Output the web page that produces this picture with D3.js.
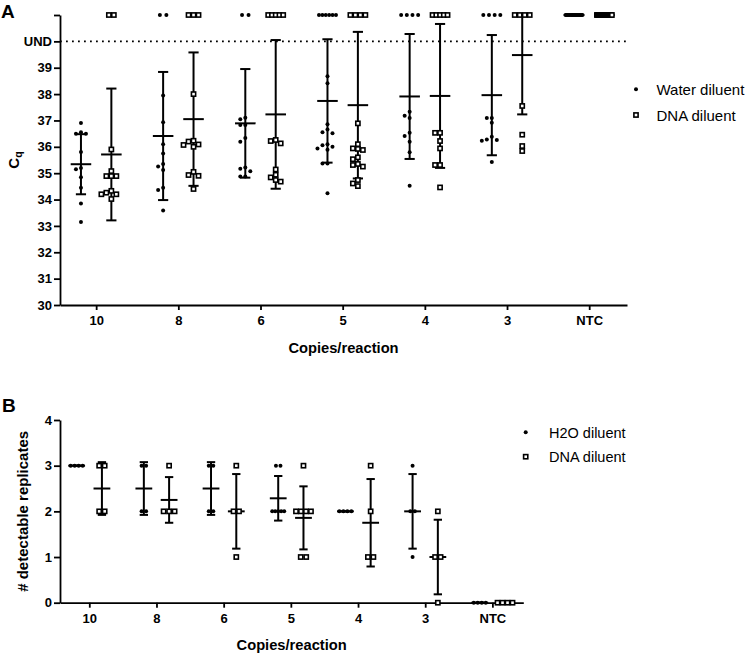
<!DOCTYPE html>
<html><head><meta charset="utf-8">
<script src="https://cdn.jsdelivr.net/npm/d3@7"></script>
<style>
body{margin:0;background:#fff}
svg{display:block}
text{font-family:"Liberation Sans",Arial,Helvetica,sans-serif;fill:#000}
</style>
</head><body>
<svg id="c" width="747" height="654"></svg>
<script>
// ---------- DATA ----------
const categories = ["10", "8", "6", "5", "4", "3", "NTC"];

// Panel A: detected Cq values (undetermined replicates are plotted on the top row)
const waterCq = [
  [36.9, 36.5, 36.5, 36.55, 35.8, 35.2, 35.15, 34.85, 34.45, 33.85, 33.15],
  [37.95, 36.93, 36.1, 35.75, 35.35, 35.25, 35.12, 34.45, 34.36, 33.58],
  [37.05, 37.1, 36.83, 36.83, 36.33, 36.19, 35.22, 35.07, 35.17, 34.87, 34.87],
  [38.68, 38.41, 36.86, 36.66, 36.51, 36.55, 36.1, 36.0, 36.06, 35.89, 35.94, 35.37, 35.37, 34.24],
  [37.33, 37.09, 37.18, 36.53, 36.41, 36.19, 35.79, 34.52],
  [37.09, 37.09, 36.91, 36.38, 36.26, 36.23, 36.28, 35.42],
  []
];
const dnaCq = [
  [35.9, 35.08, 34.89, 34.89, 34.89, 34.33, 34.26, 34.2, 34.2, 34.02],
  [38.0, 36.23, 36.2, 36.09, 36.07, 36.0, 35.05, 34.93, 34.9, 34.4],
  [36.26, 36.22, 36.13, 35.14, 34.94, 34.84, 34.74, 34.68],
  [36.89, 36.1, 35.94, 35.92, 35.88, 35.6, 35.53, 35.35, 35.31, 35.25, 34.74, 34.61, 34.51],
  [36.53, 36.53, 36.22, 35.94, 35.31, 35.31, 34.46],
  [37.55, 36.46, 36.03, 35.84],
  []
];
const waterUnd = [0, 2, 2, 6, 4, 4, 16];
const dnaUnd = [2, 3, 5, 4, 5, 4, 16];
// mean and SD (undetermined counted at the top value)
const waterMean = [35.34, 36.41, 36.89, 37.74, 37.91, 37.96, 41];
const waterSD = [1.14, 2.43, 2.06, 2.34, 2.37, 2.28, 0];
const dnaMean = [35.71, 37.05, 37.23, 37.58, 37.93, 39.48, 41];
const dnaSD = [2.5, 2.53, 2.82, 2.78, 2.73, 2.25, 0];
const cqTicks = [30, 31, 32, 33, 34, 35, 36, 37, 38, 39, 40, 41];
const cqTickLabels = ["30", "31", "32", "33", "34", "35", "36", "37", "38", "39", "UND", ""];

// Panel B: number of detectable replicates
const waterRep = [[3,3,3,3],[3,3,2,2],[3,3,2,2],[3,3,2,2,2,2,2],[2,2,2,2],[3,2,2,1],[0,0,0,0]];
const dnaRep = [[3,3,2,2],[3,2,2,2],[3,2,2,1],[3,2,2,2,2,1,1],[3,2,1,1],[2,1,1,0],[0,0,0,0]];
const repTicks = [0, 1, 2, 3, 4];

const legendA = ["Water diluent", "DNA diluent"];
const legendB = ["H2O diluent", "DNA diluent"];

// ---------- DRAW ----------
const svg = d3.select("#c");
const idx = categories.map((d, i) => i);

function glyph(g, x, y, type) {
  if (type === "dot") {
    g.append("circle").attr("cx", x).attr("cy", y).attr("r", 2).attr("fill", "#000");
  } else {
    const a = 4.2;
    g.append("rect").attr("x", x - a / 2).attr("y", y - a / 2).attr("width", a).attr("height", a)
      .attr("fill", "#fff").attr("stroke", "#000").attr("stroke-width", 1.6);
  }
}

function swarm(vals, y, gap) {
  const pts = vals.map(v => ({ v, y: y(v), dx: 0 })).sort((a, b) => a.y - b.y);
  const placed = [];
  for (const p of pts) {
    const cands = [0];
    for (let k = 1; k < 10; k++) cands.push(-k * gap, k * gap);
    for (const c of cands) {
      if (placed.every(q => Math.abs(q.dx - c) >= gap * 0.99 || Math.abs(q.y - p.y) >= gap * 0.9)) { p.dx = c; break; }
    }
    placed.push(p);
  }
  return pts;
}

function rowSpread(n, gap, maxW) {
  if (n <= 1) return [0];
  const w = Math.min((n - 1) * gap, maxW);
  return d3.range(n).map(i => -w / 2 + i * w / (n - 1));
}

function errorBar(g, xc, y, mean, sd, meanHalf, capHalf, top) {
  const hi = Math.min(mean + sd, top), lo = mean - sd;
  g.append("line").attr("x1", xc).attr("x2", xc).attr("y1", y(lo)).attr("y2", y(hi))
    .attr("stroke", "#000").attr("stroke-width", 2);
  g.append("line").attr("x1", xc - capHalf).attr("x2", xc + capHalf).attr("y1", y(lo)).attr("y2", y(lo))
    .attr("stroke", "#000").attr("stroke-width", 2);
  if (mean + sd <= top) {
    g.append("line").attr("x1", xc - capHalf).attr("x2", xc + capHalf).attr("y1", y(hi)).attr("y2", y(hi))
      .attr("stroke", "#000").attr("stroke-width", 2);
  }
  g.append("line").attr("x1", xc - meanHalf).attr("x2", xc + meanHalf).attr("y1", y(mean)).attr("y2", y(mean))
    .attr("stroke", "#000").attr("stroke-width", 2);
}

function styleAxis(g) {
  g.selectAll("path.domain").attr("stroke", "#000").attr("stroke-width", 1.8);
  g.selectAll(".tick line").attr("stroke", "#000").attr("stroke-width", 1.8);
  g.selectAll(".tick text").attr("font-size", 13).attr("font-weight", "bold")
    .attr("font-family", '"Liberation Sans",Arial,sans-serif').attr("fill", "#000");
}

// ===== Panel A =====
const xA = d3.scaleLinear().domain([-0.44, 6.46]).range([60, 627]);
const yA = d3.scaleLinear().domain([30, 41]).range([305, 15]);
const offA = 0.185;
const gA = svg.append("g");

// dotted UND line
gA.append("line").attr("x1", xA.range()[0]).attr("x2", xA.range()[1]).attr("y1", yA(40)).attr("y2", yA(40))
  .attr("stroke", "#000").attr("stroke-width", 1.8).attr("stroke-dasharray", "1.8 4.2");

const axYA = gA.append("g").attr("transform", `translate(${xA.range()[0]},0)`)
  .call(d3.axisLeft(yA).tickValues(cqTicks).tickFormat((d, i) => cqTickLabels[i]).tickSize(6).tickPadding(2).tickSizeOuter(0));
styleAxis(axYA);
const axXA = gA.append("g").attr("transform", `translate(0,${yA.range()[0]})`)
  .call(d3.axisBottom(xA).tickValues(idx).tickFormat(i => categories[i]).tickSize(5).tickPadding(6).tickSizeOuter(0));
styleAxis(axXA);

const barW_A = (xA(1) - xA(0));
function drawGroupA(vals, und, mean, sd, off, type) {
  idx.forEach(i => {
    const xc = xA(i + off);
    errorBar(gA, xc, yA, mean[i], sd[i], barW_A * 0.125, barW_A * 0.062, 41);
  });
  idx.forEach(i => {
    const xc = xA(i + off);
    swarm(vals[i], yA, 5).forEach(p => glyph(gA, xc + p.dx, p.y, type));
    const spread = type === "dot" ? rowSpread(und[i], 6.5, 17) : rowSpread(und[i], 5, 15);
    if (und[i] > 0) spread.forEach(dx => glyph(gA, xc + dx, yA(41), type));
  });
}
drawGroupA(waterCq, waterUnd, waterMean, waterSD, -offA, "dot");
drawGroupA(dnaCq, dnaUnd, dnaMean, dnaSD, offA, "sq");

gA.append("text").attr("x", d3.mean(xA.range())).attr("y", 352.5).attr("text-anchor", "middle")
  .attr("font-size", 14.7).attr("font-weight", "bold").text("Copies/reaction");
const yl = gA.append("text").attr("transform", "translate(18.5,160) rotate(-90)").attr("text-anchor", "middle")
  .attr("font-size", 15).attr("font-weight", "bold");
yl.append("tspan").text("C");
yl.append("tspan").attr("font-size", 10.5).attr("dy", 3.5).text("q");
svg.append("text").attr("x", 1).attr("y", 18).attr("font-size", 19).attr("font-weight", "bold").text("A");

// legend A
const lgA = svg.append("g");
legendA.forEach((t, i) => {
  glyph(lgA, 636, 89.3 + i * 25.7, i === 0 ? "dot" : "sq");
  lgA.append("text").attr("x", 656.5).attr("y", 95 + i * 25.5).attr("font-size", 15).text(t);
});

// ===== Panel B =====
const xB = d3.scaleLinear().domain([-0.436, 6.46]).range([60, 523.3]);
const yB = d3.scaleLinear().domain([0, 4]).range([602.7, 420]);
const offB = 0.188;
const gB = svg.append("g");
const axYB = gB.append("g").attr("transform", `translate(${xB.range()[0]},0)`)
  .call(d3.axisLeft(yB).tickValues(repTicks).tickFormat(d3.format("d")).tickSize(6).tickPadding(2).tickSizeOuter(0));
styleAxis(axYB);
const axXB = gB.append("g").attr("transform", `translate(0,${yB.range()[0]})`)
  .call(d3.axisBottom(xB).tickValues(idx).tickFormat(i => categories[i]).tickSize(5).tickPadding(6).tickSizeOuter(0));
styleAxis(axXB);

const barW_B = (xB(1) - xB(0));
function drawGroupB(vals, off, type) {
  idx.forEach(i => {
    const xc = xB(i + off);
    const m = d3.mean(vals[i]), s = d3.deviation(vals[i]) || 0;
    errorBar(gB, xc, yB, m, s, barW_B * 0.125, barW_B * 0.062, 4);
  });
  idx.forEach(i => {
    const xc = xB(i + off);
    const counts = d3.rollup(vals[i], v => v.length, d => d);
    counts.forEach((n, v) => {
      const sp = type === "dot" ? rowSpread(n, 4.5, 12) : rowSpread(n, 5.5, 15);
      sp.forEach(dx => glyph(gB, xc + dx, yB(v), type));
    });
  });
}
drawGroupB(waterRep, -offB, "dot");
drawGroupB(dnaRep, offB, "sq");

gB.append("text").attr("x", d3.mean(xB.range())).attr("y", 649.5).attr("text-anchor", "middle")
  .attr("font-size", 14.7).attr("font-weight", "bold").text("Copies/reaction");
gB.append("text").attr("transform", `translate(27.5,${d3.mean(yB.range())}) rotate(-90)`).attr("text-anchor", "middle")
  .attr("font-size", 15).attr("font-weight", "bold").text("# detectable replicates");
svg.append("text").attr("x", 2).attr("y", 412).attr("font-size", 19).attr("font-weight", "bold").text("B");

const lgB = svg.append("g");
legendB.forEach((t, i) => {
  glyph(lgB, 525.7, 432.3 + i * 24.4, i === 0 ? "dot" : "sq");
  lgB.append("text").attr("x", 549).attr("y", 437.5 + i * 24.4).attr("font-size", 14.5).text(t);
});
</script>
</body></html>
